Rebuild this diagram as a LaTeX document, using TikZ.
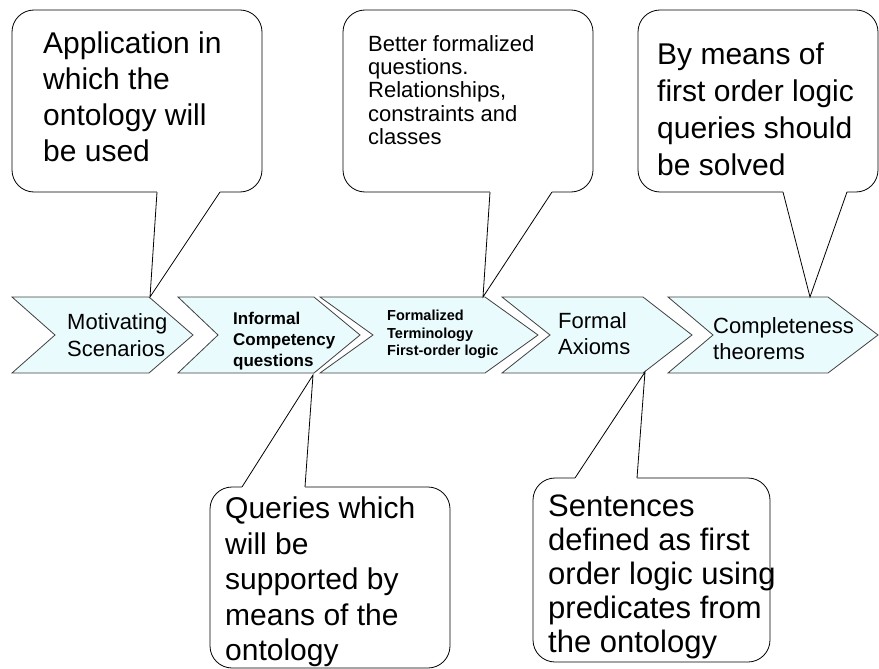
\documentclass[tikz,border=0pt]{standalone}
\usepackage{fontspec}
\setmainfont{Liberation Sans}
\definecolor{stagefill}{RGB}{234,251,254}
\tikzset{
	stage/.style={draw=black!75,fill=stagefill,line width=0.8pt},
	bubble/.style={draw=black,fill=white,line width=0.8pt,rounded corners=22pt},
	tail/.style={draw=black,line width=0.8pt},
	txt/.style={anchor=north west,inner sep=0pt,align=left},
}

\begin{document}
\begin{tikzpicture}[x=1pt,y=-1pt]
	\useasboundingbox (0,0) rectangle (879,669);

	%stages
	\draw[stage] (12,297)--(149,297)--(193,335)--(149,373)--(12,373)--(55,335)--cycle;
	\draw[stage] (178,297)--(314,297)--(360,335)--(314,373)--(178,373)--(218,335)--cycle;
	\draw[stage] (320,297)--(485,297)--(538,335)--(485,373)--(320,373)--(373,335)--cycle;
	\draw[stage] (502,297)--(643,297)--(692,335)--(643,373)--(502,373)--(550,335)--cycle;
	\draw[stage] (668,297)--(828,297)--(878,335)--(828,373)--(668,373)--(713,335)--cycle;

	%points the bubbles aim at
	\coordinate (tipapp)   at (150,297);
	\coordinate (tipbetter) at (483,297);
	\coordinate (tipmeans) at (810,297);
	\coordinate (tipqueries) at (313,375);
	\coordinate (tipsent)  at (645,372);

	%stage labels
	\node[txt,font=\fontsize{22}{27}\selectfont] (motiv) at (67,313) {Motivating\\Scenarios};
	\node[txt,font=\fontsize{17}{21}\selectfont\bfseries] (informal) at (233,312) {Informal\\Competency\\questions};
	\node[txt,font=\fontsize{14.5}{17.5}\selectfont\bfseries] (formalized) at (387,310) {Formalized\\Terminology\\First-order logic};
	\node[txt,font=\fontsize{22}{26}\selectfont] (axioms) at (558,312) {Formal\\Axioms};
	\node[txt,font=\fontsize{22}{26}\selectfont] (complete) at (713,317) {Completeness\\theorems};

	%bubbles above
	\draw[bubble] (12,10) rectangle (262,192);
	\fill[white] (157,189)--(157,192)--(tipapp)--(220,192)--(220,189)--cycle;
	\draw[tail] (157,192)--(tipapp)--(220,192);
	%
	\draw[bubble] (343,10) rectangle (593,192);
	\fill[white] (490,189)--(490,192)--(tipbetter)--(552,192)--(552,189)--cycle;
	\draw[tail] (490,192)--(tipbetter)--(552,192);
	%
	\draw[bubble] (638,10) rectangle (878,192);
	\fill[white] (783,189)--(783,192)--(tipmeans)--(847,192)--(847,189)--cycle;
	\draw[tail] (783,192)--(tipmeans)--(847,192);

	%bubbles below
	\draw[bubble] (210,487) rectangle (450,668);
	\fill[white] (242,490)--(242,487)--(tipqueries)--(305,487)--(305,490)--cycle;
	\draw[tail] (242,487)--(tipqueries)--(305,487);
	%
	\draw[bubble] (533,478) rectangle (770,662);
	\fill[white] (575,481)--(575,478)--(tipsent)--(637,478)--(637,481)--cycle;
	\draw[tail] (575,478)--(tipsent)--(637,478);

	%bubble texts
	\node[txt,font=\fontsize{30}{36}\selectfont] (appnote) at (43,32) {Application in\\which the\\ontology will\\be used};
	\node[txt,font=\fontsize{22}{23.4}\selectfont] (betternote) at (368,35) {Better formalized\\questions.\\Relationships,\\constraints and\\classes};
	\node[txt,font=\fontsize{30}{37}\selectfont] (meansnote) at (657,43) {By means of\\first order logic\\queries should\\be solved};
	\node[txt,font=\fontsize{30}{35.5}\selectfont] (queriesnote) at (225,497) {Queries which\\will be\\supported by\\means of the\\ontology};
	\node[txt,font=\fontsize{31}{34}\selectfont] (sentnote) at (548,495) {Sentences\\defined as first\\order logic using\\predicates from\\the ontology};

	%\draw[help lines,step=50] (0,0) grid (879,669);
\end{tikzpicture}
\end{document}
